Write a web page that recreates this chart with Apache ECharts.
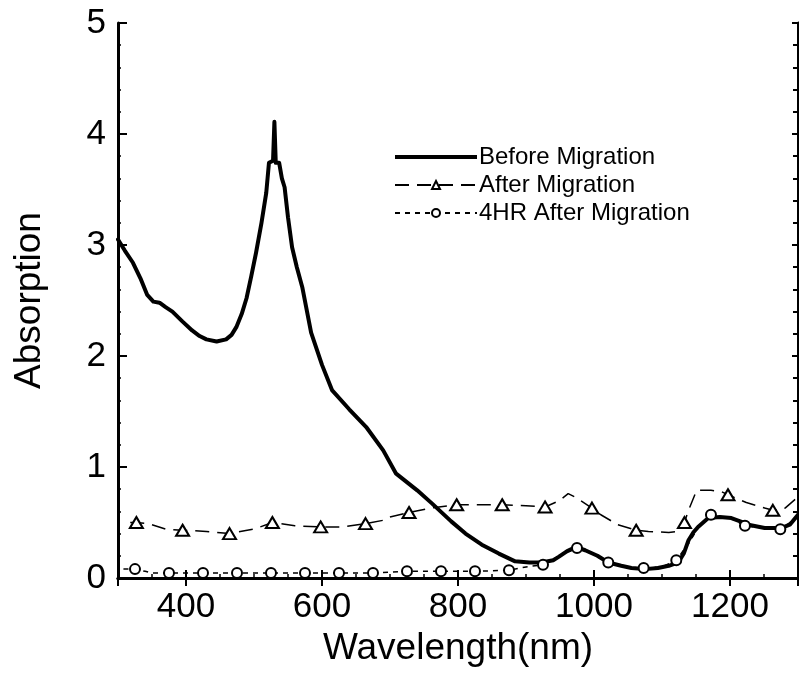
<!DOCTYPE html>
<html>

<head>
    <meta charset="utf-8">
    <title>Absorption spectra</title>
    <script src="https://cdn.jsdelivr.net/npm/echarts@6/dist/echarts.min.js"></script>
    <style>
        body { margin: 0; background: #fff; }
    </style>
</head>

<body>
    <div id="main" style="width: 799px;height:680px;"></div>
    <script type="text/javascript">
        // wavelength (nm) / absorption
        var beforeX = [300, 310, 322, 333, 343, 352, 361, 370, 380, 395, 409, 420, 430, 445, 459, 467, 474, 482, 489, 496,
            503, 511, 518, 522, 528, 530, 532, 537, 541, 545, 550, 556, 563, 571, 584, 600, 615, 640, 665, 690,
            709, 740, 762, 790, 811, 835, 860, 884, 905, 923, 940, 948, 960, 973, 987, 1005, 1021, 1040, 1055, 1075,
            1094, 1110, 1124, 1132, 1139, 1146, 1153, 1168, 1185, 1202, 1215, 1227, 1251, 1275, 1288, 1300];
        var beforeY = [3.05, 2.95, 2.84, 2.70, 2.55, 2.49, 2.48, 2.44, 2.40, 2.31, 2.23, 2.18, 2.15, 2.13, 2.15, 2.19, 2.26, 2.38, 2.52, 2.72,
            2.93, 3.20, 3.47, 3.74, 3.76, 4.11, 3.74, 3.74, 3.60, 3.52, 3.25, 2.98, 2.80, 2.62, 2.21, 1.92, 1.69, 1.52, 1.36, 1.15,
            0.94, 0.79, 0.67, 0.51, 0.40, 0.30, 0.22, 0.15, 0.14, 0.14, 0.16, 0.19, 0.24, 0.28, 0.25, 0.20, 0.14, 0.11, 0.09, 0.08,
            0.09, 0.11, 0.14, 0.22, 0.34, 0.41, 0.46, 0.54, 0.55, 0.54, 0.51, 0.48, 0.45, 0.45, 0.48, 0.57];

        var afterLineX = [318, 345, 370, 430, 490, 500, 560, 630, 690, 700, 760, 830, 900, 950, 962, 975, 1010, 1035,
            1080, 1110, 1124, 1139, 1151, 1172, 1187, 1224, 1251, 1281, 1298];
        var afterLineY = [0.50, 0.49, 0.44, 0.42, 0.43, 0.44, 0.47, 0.46, 0.52, 0.55, 0.63, 0.66, 0.65, 0.70, 0.76, 0.72, 0.57, 0.48,
            0.42, 0.41, 0.42, 0.61, 0.79, 0.79, 0.78, 0.68, 0.63, 0.63, 0.72];
        var afterMarkX = [327, 395, 464, 527, 598, 664, 728, 798, 865, 928, 997, 1062, 1133, 1197, 1263];
        var afterMarkY = [0.50, 0.43, 0.40, 0.50, 0.46, 0.49, 0.59, 0.66, 0.66, 0.64, 0.63, 0.43, 0.50, 0.75, 0.61];

        var hr4LineX = [308, 340, 350, 900, 950, 990, 1050, 1100, 1140, 1155, 1200, 1250, 1298];
        var hr4LineY = [0.08, 0.06, 0.045, 0.10, 0.20, 0.24, 0.10, 0.10, 0.32, 0.47, 0.54, 0.45, 0.54];
        var hr4MarkX = [325, 375, 425, 475, 525, 575, 625, 675, 725, 775, 825, 875, 925, 975, 1021, 1073, 1121, 1172, 1222, 1274];
        var hr4MarkY = [0.08, 0.045, 0.045, 0.045, 0.045, 0.045, 0.045, 0.045, 0.06, 0.06, 0.06, 0.07, 0.12, 0.27, 0.14, 0.09, 0.16, 0.57, 0.47, 0.44];

        var seriesNames = ['Before Migration', 'After Migration', '4HR After Migration'];

        function pairs(xs, ys) {
            return xs.map(function (x, i) { return [x, ys[i]]; });
        }
        function merged(xs1, ys1, xs2, ys2) {
            return pairs(xs1, ys1).concat(pairs(xs2, ys2)).sort(function (a, b) { return a[0] - b[0]; });
        }

        var font = 'Liberation Sans';
        var myChart = echarts.init(document.getElementById('main'));

        var frameLine = { show: true, lineStyle: { color: '#000', width: 3 } };

        var option = {
            animation: false,
            backgroundColor: '#fff',
            grid: { left: 118, right: 1, top: 23, bottom: 102 },
            legend: {
                orient: 'vertical',
                left: 389,
                top: 140,
                itemWidth: 82,
                itemHeight: 10,
                itemGap: 4,
                textStyle: { fontFamily: font, fontSize: 24, color: '#000', padding: [0, 0, 0, -3] },
                data: [
                    { name: seriesNames[0], icon: 'path://M0,0H80V4H0Z' },
                    { name: seriesNames[1] },
                    { name: seriesNames[2] }
                ]
            },
            xAxis: [{
                type: 'value',
                min: 300,
                max: 1300,
                splitNumber: 5,
                name: 'Wavelength(nm)',
                nameLocation: 'middle',
                nameGap: 46,
                nameTextStyle: { fontFamily: font, fontSize: 37, color: '#000' },
                axisLine: frameLine,
                axisTick: { inside: true, length: 8, lineStyle: { color: '#000', width: 2 } },
                minorTick: { show: true, splitNumber: 4, length: 4, lineStyle: { color: '#000', width: 1.5 } },
                axisLabel: {
                    fontFamily: font, fontSize: 35, color: '#000', margin: 12,
                    showMinLabel: false, showMaxLabel: false,
                    formatter: function (v) { return String(v); }
                },
                splitLine: { show: false }
            }, {
                type: 'value',
                position: 'top',
                min: 300,
                max: 1300,
                splitNumber: 5,
                axisLine: frameLine,
                axisTick: { inside: true, length: 8, lineStyle: { color: '#000', width: 2 } },
                axisLabel: { show: false },
                splitLine: { show: false }
            }],
            yAxis: [{
                type: 'value',
                min: 0,
                max: 5,
                interval: 1,
                name: 'Absorption',
                nameLocation: 'middle',
                nameGap: 70,
                nameTextStyle: { fontFamily: font, fontSize: 37, color: '#000' },
                axisLine: frameLine,
                axisTick: { inside: true, length: 9, lineStyle: { color: '#000', width: 2 } },
                minorTick: { show: true, splitNumber: 5, length: 3, lineStyle: { color: '#000', width: 1.5 } },
                axisLabel: { fontFamily: font, fontSize: 35, color: '#000', margin: 12 },
                splitLine: { show: false }
            }, {
                type: 'value',
                position: 'right',
                min: 0,
                max: 5,
                interval: 1,
                axisLine: frameLine,
                axisTick: { inside: true, length: 6, lineStyle: { color: '#000', width: 2 } },
                minorTick: { show: true, splitNumber: 5, length: 5, lineStyle: { color: '#000', width: 2 } },
                axisLabel: { show: false },
                splitLine: { show: false }
            }],
            series: [{
                name: seriesNames[0],
                type: 'line',
                color: '#000',
                showSymbol: false,
                symbol: 'none',
                lineStyle: { color: '#000', width: 4, join: 'round', cap: 'round' },
                z: 3,
                data: pairs(beforeX, beforeY)
            }, {
                name: seriesNames[1],
                type: 'line',
                color: '#000',
                symbol: 'emptyTriangle',
                showSymbol: false,
                lineStyle: { color: '#000', width: 1.5, type: [14, 8] },
                z: 2,
                data: merged(afterLineX, afterLineY, afterMarkX, afterMarkY)
            }, {
                name: 'afterMarks',
                type: 'scatter',
                symbol: 'emptyTriangle',
                symbolSize: [13, 11],
                itemStyle: { color: '#000', borderColor: '#000', borderWidth: 1.6, opacity: 1 },
                z: 4,
                data: pairs(afterMarkX, afterMarkY)
            }, {
                name: seriesNames[2],
                type: 'line',
                color: '#000',
                symbol: 'emptyCircle',
                showSymbol: false,
                lineStyle: { color: '#000', width: 1.5, type: [5, 5] },
                z: 2,
                data: merged(hr4LineX, hr4LineY, hr4MarkX, hr4MarkY)
            }, {
                name: 'hr4Marks',
                type: 'scatter',
                symbol: 'emptyCircle',
                symbolSize: 10,
                itemStyle: { color: '#000', borderColor: '#000', borderWidth: 1.6, opacity: 1 },
                z: 4,
                data: pairs(hr4MarkX, hr4MarkY)
            }]
        };

        myChart.setOption(option);
    </script>
</body>

</html>
